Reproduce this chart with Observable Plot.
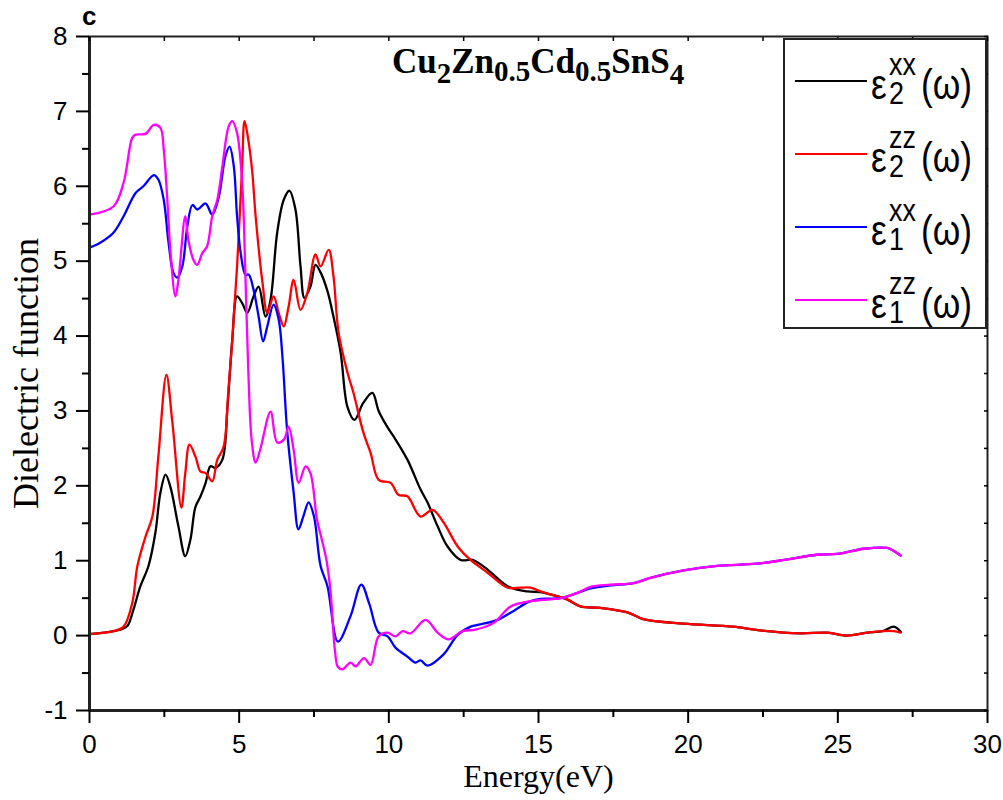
<!DOCTYPE html>
<html>
<head>
<meta charset="utf-8">
<script src="https://cdn.jsdelivr.net/npm/d3@7"></script>
<script src="https://cdn.jsdelivr.net/npm/@observablehq/plot@0.6"></script>
<style>
  html, body { margin: 0; padding: 0; background: #fff; }
  #wrap { position: relative; width: 1003px; height: 800px; overflow: hidden; }
  #wrap svg { display: block; }
  .ov { position: absolute; white-space: nowrap; line-height: 1; color: #000; }
  .sans { font-family: "Liberation Sans", Arial, sans-serif; }
  .serif { font-family: "Liberation Serif", "Times New Roman", serif; }
  .narrow { transform: scaleX(0.84); transform-origin: left top; }
  .stack { white-space: pre; line-height: 29px; }
  #legend { position: absolute; left: 783px; top: 38px; width: 200px; height: 287px;
            border: 2px solid #222; background: #fff; }
  .swatch { position: absolute; left: 10px; width: 72px; height: 2.5px; }
</style>
</head>
<body>
<div id="wrap"></div>
<script>
// Energy grid (eV) and values for each dielectric component
const e2xxE = [0, 0.5, 0.8, 1.1, 1.27, 1.47, 1.7, 1.97, 2.2, 2.37, 2.54, 2.7, 2.97, 3.2, 3.37, 3.54, 3.71, 3.88, 4.04, 4.21, 4.44, 4.61, 4.77, 4.93, 5.1, 5.27, 5.48, 5.65, 5.88, 6.05, 6.27, 6.49, 6.68, 6.88, 7.05, 7.18, 7.38, 7.55, 7.72, 7.95, 8.15, 8.39, 8.62, 8.85, 9.15, 9.45, 9.66, 9.96, 10.16, 10.62, 11.06, 11.29, 11.63, 11.96, 12.4, 12.8, 13.3, 13.97, 14.63, 15.07, 15.4, 15.97, 16.4, 17.07, 17.97, 18.5, 19.85, 21.5, 22.4, 23.75, 24.65, 25.3, 25.98, 26.5, 26.87, 27.1];
const e2xxV = [0.02, 0.04, 0.06, 0.09, 0.13, 0.35, 0.66, 0.93, 1.37, 1.91, 2.15, 1.99, 1.46, 1.06, 1.28, 1.72, 1.86, 2.04, 2.26, 2.24, 2.35, 3.06, 3.95, 4.53, 4.44, 4.31, 4.53, 4.66, 4.26, 4.49, 5.38, 5.82, 5.94, 5.69, 4.93, 4.51, 4.66, 4.95, 4.85, 4.6, 4.26, 3.78, 3.05, 2.88, 3.11, 3.24, 3.0, 2.78, 2.66, 2.35, 1.95, 1.78, 1.46, 1.19, 1.01, 1.01, 0.88, 0.66, 0.59, 0.58, 0.55, 0.48, 0.39, 0.37, 0.31, 0.22, 0.16, 0.12, 0.07, 0.03, 0.04, 0.0, 0.04, 0.06, 0.12, 0.05];

const e2zzE = [0, 0.5, 0.8, 1.14, 1.43, 1.6, 1.87, 2.1, 2.3, 2.57, 2.77, 3.07, 3.2, 3.34, 3.54, 3.71, 3.88, 4.1, 4.27, 4.48, 4.64, 4.77, 4.93, 5.1, 5.18, 5.32, 5.44, 5.55, 5.78, 5.94, 6.15, 6.32, 6.49, 6.65, 6.82, 7.05, 7.28, 7.55, 7.72, 7.99, 8.15, 8.32, 8.62, 8.82, 9.15, 9.39, 9.66, 10.06, 10.32, 10.62, 11.06, 11.46, 11.83, 12.3, 12.73, 13.3, 13.97, 14.4, 14.73, 15.07, 15.4, 15.97, 16.4, 17.07, 17.97, 18.5, 19.85, 21.5, 22.4, 23.75, 24.65, 25.3, 25.98, 26.5, 26.87, 27.1];
const e2zzV = [0.02, 0.04, 0.06, 0.12, 0.44, 0.93, 1.32, 1.59, 2.39, 3.48, 2.84, 1.71, 2.17, 2.55, 2.39, 2.19, 2.17, 2.06, 2.35, 2.52, 3.28, 3.95, 4.93, 6.27, 6.87, 6.58, 6.18, 5.6, 4.71, 4.31, 4.53, 4.31, 4.13, 4.39, 4.75, 4.35, 4.58, 5.09, 4.93, 5.15, 4.8, 4.05, 3.51, 3.24, 2.71, 2.44, 2.08, 2.04, 1.88, 1.86, 1.59, 1.68, 1.51, 1.19, 1.01, 0.84, 0.64, 0.64, 0.64, 0.59, 0.55, 0.48, 0.39, 0.37, 0.31, 0.22, 0.16, 0.12, 0.07, 0.03, 0.04, 0.0, 0.04, 0.06, 0.06, 0.04];

const e1xxE = [0, 0.37, 0.8, 1.14, 1.54, 1.8, 2.15, 2.3, 2.48, 2.64, 2.8, 2.93, 3.1, 3.27, 3.44, 3.6, 3.88, 4.1, 4.32, 4.54, 4.68, 4.82, 4.93, 5.05, 5.21, 5.32, 5.48, 5.65, 5.8, 5.94, 6.15, 6.32, 6.45, 6.6, 6.82, 6.98, 7.15, 7.32, 7.5, 7.72, 7.95, 8.3, 8.72, 9.08, 9.35, 9.66, 9.96, 10.22, 10.62, 10.89, 11.06, 11.29, 11.83, 12.3, 12.73, 13.06, 13.63, 14.17, 14.67, 15.07, 15.74, 16.3, 16.74, 17.4, 18.18, 18.74, 19.85, 20.97, 22.3, 23.2, 24.3, 24.98, 25.87, 26.65, 26.83, 27.1];
const e1xxV = [5.18, 5.25, 5.38, 5.6, 5.91, 6.0, 6.15, 6.09, 5.82, 5.25, 4.85, 4.78, 4.93, 5.47, 5.75, 5.69, 5.77, 5.62, 5.86, 6.4, 6.53, 6.27, 5.6, 5.11, 4.82, 4.82, 4.62, 4.26, 3.93, 4.13, 4.42, 4.22, 3.7, 2.75, 1.91, 1.42, 1.6, 1.78, 1.59, 0.93, 0.66, -0.08, 0.26, 0.68, 0.42, 0.04, -0.01, -0.16, -0.28, -0.36, -0.33, -0.4, -0.25, 0.01, 0.12, 0.15, 0.21, 0.33, 0.45, 0.49, 0.5, 0.57, 0.63, 0.67, 0.7, 0.77, 0.87, 0.93, 0.96, 1.01, 1.08, 1.09, 1.16, 1.17, 1.14, 1.07];

const e1zzE = [0, 0.8, 1.14, 1.43, 1.54, 1.87, 2.15, 2.37, 2.48, 2.6, 2.7, 2.87, 2.97, 3.2, 3.3, 3.47, 3.6, 3.77, 3.93, 4.1, 4.27, 4.44, 4.65, 4.77, 4.93, 5.1, 5.2, 5.3, 5.42, 5.55, 5.7, 6.05, 6.27, 6.5, 6.65, 6.82, 6.99, 7.22, 7.38, 7.6, 7.75, 7.92, 8.05, 8.2, 8.3, 8.45, 8.72, 8.89, 9.17, 9.39, 9.66, 9.96, 10.22, 10.46, 10.72, 11.23, 11.63, 12.0, 12.46, 12.9, 13.5, 14.07, 14.73, 15.74, 16.3, 16.74, 17.4, 18.18, 18.74, 19.85, 20.97, 22.3, 23.2, 24.3, 24.98, 25.87, 26.65, 26.83, 27.1];
const e1zzV = [5.62, 5.73, 6.05, 6.65, 6.69, 6.7, 6.82, 6.78, 6.49, 5.82, 5.15, 4.53, 4.75, 5.6, 5.29, 5.02, 4.95, 5.11, 5.2, 5.6, 5.82, 6.27, 6.8, 6.87, 6.71, 6.05, 4.93, 3.6, 2.6, 2.31, 2.48, 2.99, 2.58, 2.62, 2.79, 2.48, 2.04, 2.26, 2.17, 1.55, 1.3, 1.0, 0.6, -0.2, -0.42, -0.45, -0.36, -0.41, -0.3, -0.39, -0.01, 0.04, -0.01, 0.06, 0.03, 0.21, 0.04, -0.05, 0.06, 0.08, 0.17, 0.39, 0.46, 0.5, 0.57, 0.65, 0.68, 0.7, 0.77, 0.87, 0.93, 0.96, 1.01, 1.08, 1.09, 1.16, 1.17, 1.14, 1.07];

// Axis ticks
const xMajor = [0, 5, 10, 15, 20, 25, 30];
const xMinor = [2.5, 7.5, 12.5, 17.5, 22.5, 27.5];
const yMajor = [-1, 0, 1, 2, 3, 4, 5, 6, 7, 8];
const yMinor = [-0.5, 0.5, 1.5, 2.5, 3.5, 4.5, 5.5, 6.5, 7.5];

// Legend entries: subscript, superscript and colour of each curve
const seriesNames = ["e2xx", "e2zz", "e1xx", "e1zz"];
const legendSub = ["2", "2", "1", "1"];
const legendSup = ["xx", "zz", "xx", "zz"];
const seriesColors = ["#000000", "#ff0000", "#0000ff", "#ff00ff"];

const zip = (E, V) => E.map((e, i) => ({e, v: V[i]}));
const series = [zip(e2xxE, e2xxV), zip(e2zzE, e2zzV), zip(e1xxE, e1xxV), zip(e1zzE, e1zzV)];

const lineMarks = series.map((d, i) =>
  Plot.line(d, {x: "e", y: "v", stroke: seriesColors[i], strokeWidth: 2.3, curve: "catmull-rom"})
);

const fmt = d => String(d);
const serif = "'Liberation Serif', 'Times New Roman', serif";

const chart = Plot.plot({
  width: 1003,
  height: 800,
  marginLeft: 89,
  marginRight: 16,
  marginTop: 36,
  marginBottom: 90,
  style: {fontFamily: "'Liberation Sans', Arial, sans-serif", fontSize: "26px", color: "#000", background: "#fff"},
  x: {domain: [0, 30]},
  y: {domain: [-1, 8]},
  marks: [
    ...lineMarks,
    Plot.frame({stroke: "#222", strokeWidth: 2}),
    Plot.ruleX([0], {stroke: "#222", strokeWidth: 3}),
    Plot.ruleY([-1], {stroke: "#222", strokeWidth: 3}),
    Plot.axisX(xMajor, {anchor: "bottom", tickSize: 13, tickPadding: 11, strokeWidth: 2, tickFormat: fmt, label: null, fontSize: 26}),
    Plot.axisX(xMinor, {anchor: "bottom", tickSize: 7, strokeWidth: 2, fill: "none", label: null}),
    Plot.axisX([...xMajor, ...xMinor], {anchor: "top", tickSize: -4, strokeWidth: 1.5, fill: "none", label: null}),
    Plot.axisY(yMajor, {anchor: "left", tickSize: 13, tickPadding: 9, strokeWidth: 2, tickFormat: fmt, label: null, fontSize: 26}),
    Plot.axisY(yMinor, {anchor: "left", tickSize: 7, strokeWidth: 2, fill: "none", label: null}),
    Plot.axisY([...yMajor, ...yMinor], {anchor: "right", tickSize: -4, strokeWidth: 1.5, fill: "none", label: null}),
    Plot.text(["Energy(eV)"], {frameAnchor: "bottom", lineAnchor: "middle", textAnchor: "middle", dy: 66, fontFamily: serif, fontSize: 32}),
    Plot.text(["Dielectric function"], {frameAnchor: "left", lineAnchor: "middle", textAnchor: "middle", dx: -63, rotate: -90, fontFamily: serif, fontSize: 36})
  ]
});

const wrap = document.getElementById("wrap");
wrap.appendChild(chart);

// Panel letter
const letter = document.createElement("div");
letter.className = "ov sans";
letter.style.cssText = "left:82px;top:3px;font-size:26px;font-weight:bold;";
letter.textContent = "c";
wrap.appendChild(letter);

// Compound formula
const title = document.createElement("div");
title.className = "ov serif";
title.style.cssText = "left:392px;top:44px;font-size:35px;font-weight:bold;";
const parts = [["Cu", 0], ["2", 10], ["Zn", 0], ["0.5", 8], ["Cd", 0], ["0.5", 8], ["SnS", 0], ["4", 11]];
for (const [t, shift] of parts) {
  const s = document.createElement("span");
  s.textContent = t;
  if (shift) { s.style.fontSize = "29px"; s.style.position = "relative"; s.style.top = shift + "px"; }
  title.appendChild(s);
}
wrap.appendChild(title);

// Legend box
const legend = document.createElement("div");
legend.id = "legend";
wrap.appendChild(legend);
const rowY = [41, 114, 187, 260]; // swatch centre within the legend box
seriesNames.forEach((name, i) => {
  const ly = rowY[i];
  const sw = document.createElement("div");
  sw.className = "swatch";
  sw.style.top = (ly - 1.25) + "px";
  sw.style.background = seriesColors[i];
  legend.appendChild(sw);
  const piece = (text, left, top, size, extra) => {
    const d = document.createElement("div");
    d.className = "ov sans narrow" + (extra ? " " + extra : "");
    d.style.left = left + "px";
    d.style.top = top + "px";
    d.style.fontSize = size + "px";
    d.textContent = text;
    legend.appendChild(d);
  };
  piece("\u03B5", 86, ly - 16.6, 42);
  // superscript over subscript, stacked in one block
  piece(legendSup[i] + "\n" + legendSub[i], 104, ly - 30.6, 32, "stack");
  piece("(\u03C9)", 136, ly - 16.6, 42);
});
</script>
</body>
</html>
